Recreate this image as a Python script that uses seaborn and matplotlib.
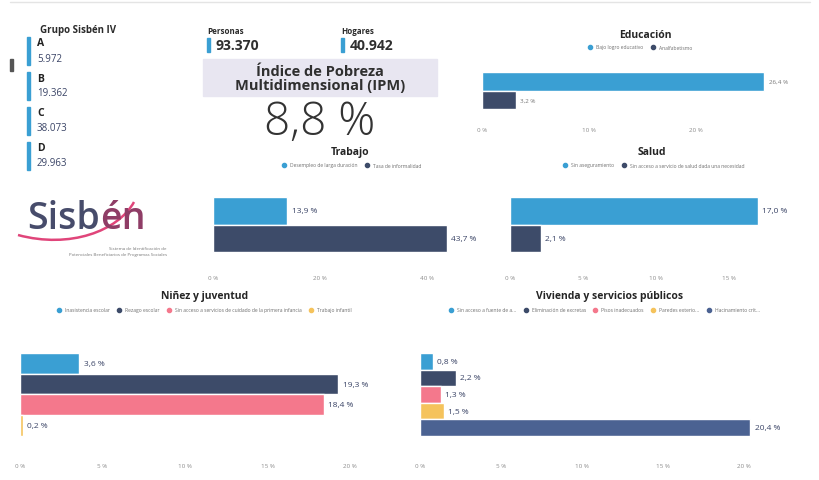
import matplotlib
matplotlib.use("Agg")
import matplotlib.pyplot as plt
from matplotlib.lines import Line2D
from matplotlib.patches import Rectangle, PathPatch
from matplotlib.path import Path
import seaborn as sns
import pandas as pd

# ---- data ----
grupos = ["A", "B", "C", "D"]
grupos_valor = ["5.972", "19.362", "38.073", "29.963"]
personas = "93.370"
hogares = "40.942"
ipm = 8.8

educacion_ind = ["Bajo logro educativo", "Analfabetismo"]
educacion_val = [26.4, 3.2]
trabajo_ind = ["Desempleo de larga duración", "Tasa de informalidad"]
trabajo_val = [13.9, 43.7]
salud_ind = ["Sin aseguramiento", "Sin acceso a servicio de salud dada una necesidad"]
salud_val = [17.0, 2.1]
ninez_ind = ["Inasistencia escolar", "Rezago escolar",
             "Sin acceso a servicios de cuidado de la primera infancia", "Trabajo infantil"]
ninez_val = [3.6, 19.3, 18.4, 0.2]
vivienda_ind = ["Sin acceso a fuente de a...", "Eliminación de excretas", "Pisos inadecuados",
                "Paredes exterio...", "Hacinamiento crít..."]
vivienda_val = [0.8, 2.2, 1.3, 1.5, 20.4]

BLUE = "#3a9fd3"
NAVY = "#3d4b69"
PINK = "#f4788c"
YELLOW = "#f5c35c"
SLATE = "#4b6292"
TXT = "#3a4466"

W, H = 820, 481
sns.set_theme(style="white")
plt.rcParams["font.family"] = ["Open Sans", "DejaVu Sans"]

fig = plt.figure(figsize=(W / 100, H / 100), dpi=100)
fig.patch.set_facecolor("white")


def fx(x):
    return x / W


def fy(y):
    return 1 - y / H


def ftext(x, y, s, **kw):
    return fig.text(fx(x), fy(y), s, **kw)


def pct(v):
    return f"{v:.1f}".replace(".", ",") + " %"


# faint header rule
fig.add_artist(Line2D([fx(10), fx(810)], [fy(3), fy(3)], color="#e4e4e4", lw=1))

# ---- Grupo Sisbén IV cards ----
ftext(40, 30, "Grupo Sisbén IV", fontsize=7, fontweight="bold", color="#2b2b2b", va="center")
fig.add_artist(Rectangle((fx(10), fy(72)), 3 / W, 12 / H, color="#555555", transform=fig.transFigure))
for i, (g, v) in enumerate(zip(grupos, grupos_valor)):
    top = 38 + i * 35
    fig.add_artist(Rectangle((fx(27), fy(top + 28)), 3 / W, 28 / H, color=BLUE,
                             transform=fig.transFigure))
    ftext(37, top + 6, g, fontsize=7.5, fontweight="bold", color="#222222", va="center")
    ftext(37, top + 21, v, fontsize=7, color=TXT, va="center")

# ---- Personas / Hogares ----
for x0, lab, val in [(207, "Personas", personas), (341, "Hogares", hogares)]:
    ftext(x0, 32, lab, fontsize=5.8, fontweight="bold", color="#2b2b2b", va="center")
    fig.add_artist(Rectangle((fx(x0), fy(53)), 3 / W, 14 / H, color=BLUE,
                             transform=fig.transFigure))
    ftext(x0 + 9, 46, val, fontsize=10, fontweight="bold", color="#2f2f2f", va="center")

# ---- IPM headline ----
fig.add_artist(Rectangle((fx(203), fy(97)), 234 / W, 37 / H, color="#e8e6f1",
                         transform=fig.transFigure))
ftext(320, 79, "Índice de Pobreza\nMultidimensional (IPM)", fontsize=10.5, fontweight="bold",
      color="#2f2f2f", ha="center", va="center", linespacing=1.0)
ftext(320, 123, pct(ipm), fontsize=33, fontweight="light", color="#333333",
      ha="center", va="center")

# ---- Sisbén logo ----
ftext(100, 219, "Sisb", fontsize=27, fontweight="semibold", color="#474c6b",
      ha="right", va="center")
ftext(100, 219, "én", fontsize=27, fontweight="semibold", color="#8f3d66",
      ha="left", va="center")
verts = [(fx(18), fy(236)), (fx(70), fy(250)), (fx(118), fy(232)), (fx(134), fy(203))]
swoosh = PathPatch(Path(verts, [Path.MOVETO, Path.CURVE4, Path.CURVE4, Path.CURVE4]),
                   transform=fig.transFigure, fill=False, edgecolor="#e0457a", lw=1.8)
fig.add_artist(swoosh)
ftext(167, 249, "Sistema de Identificación de", fontsize=3.2, color="#777777",
      ha="right", va="center")
ftext(167, 255, "Potenciales Beneficiarios de Programas Sociales", fontsize=3.2,
      color="#777777", ha="right", va="center")


# ---- bar panels ----
def panel(title, title_xy, legend_xy, names, vals, colors, left, px_per, xmax,
          top, bar_h, bottom, ticks, lab_size=6, lab_color=TXT):
    right = left + px_per * xmax
    ax = fig.add_axes([fx(left), fy(bottom), (right - left) / W, (bottom - top) / H])
    df = pd.DataFrame({"indicador": names, "valor": vals})
    sns.barplot(data=df, x="valor", y="indicador", hue="indicador", palette=colors,
                orient="h", width=1.0, saturation=1, legend=False, ax=ax)
    ax.set_xlim(0, xmax)
    ax.set_ylim(-0.5 + (bottom - top) / bar_h, -0.5)
    for cont, v in zip(ax.containers, vals):
        ax.bar_label(cont, labels=[pct(v)], padding=3, fontsize=lab_size, color=lab_color,
                     clip_on=False)
    ax.set_xticks(ticks)
    ax.set_xticklabels([f"{t} %" for t in ticks])
    ax.tick_params(axis="x", length=0, pad=3, labelsize=4.5, labelcolor="#8c8c8c")
    ax.set_yticks([])
    ax.set_xlabel("")
    ax.set_ylabel("")
    for s in ax.spines.values():
        s.set_visible(False)
    ax.patch.set_alpha(0)

    ftext(title_xy[0], title_xy[1], title, fontsize=7.5, fontweight="bold",
          color="#252525", ha="center", va="center")
    handles = [Line2D([], [], marker="o", ls="", color=c, markersize=3) for c in colors]
    fig.legend(handles, names, loc="center", bbox_to_anchor=(fx(legend_xy[0]), fy(legend_xy[1])),
               ncol=len(names), frameon=False, fontsize=3.6, labelcolor="#6f6f6f",
               handletextpad=0.2, columnspacing=0.9, borderaxespad=0, borderpad=0)
    return ax


panel("Educación", (645, 36), (639, 48), educacion_ind, educacion_val, [BLUE, NAVY],
      left=482, px_per=10.7, xmax=30, top=73, bar_h=18.5, bottom=124, ticks=[0, 10, 20],
      lab_size=4.5, lab_color="#777777")
panel("Trabajo", (350, 153), (350, 166), trabajo_ind, trabajo_val, [BLUE, NAVY],
      left=213, px_per=5.35, xmax=50, top=198, bar_h=27.5, bottom=272, ticks=[0, 20, 40])
panel("Salud", (652, 153), (652, 166), salud_ind, salud_val, [BLUE, NAVY],
      left=510, px_per=14.6, xmax=20, top=198, bar_h=27.5, bottom=272, ticks=[0, 5, 10, 15])
panel("Niñez y juventud", (205, 296), (203, 311), ninez_ind, ninez_val,
      [BLUE, NAVY, PINK, YELLOW],
      left=20, px_per=16.5, xmax=23, top=354, bar_h=20.7, bottom=460, ticks=[0, 5, 10, 15, 20])
panel("Vivienda y servicios públicos", (610, 296), (603, 311), vivienda_ind, vivienda_val,
      [BLUE, NAVY, PINK, YELLOW, SLATE],
      left=420, px_per=16.2, xmax=24, top=354, bar_h=16.6, bottom=460, ticks=[0, 5, 10, 15, 20])

fig.savefig("out.png", dpi=100, facecolor="white")
